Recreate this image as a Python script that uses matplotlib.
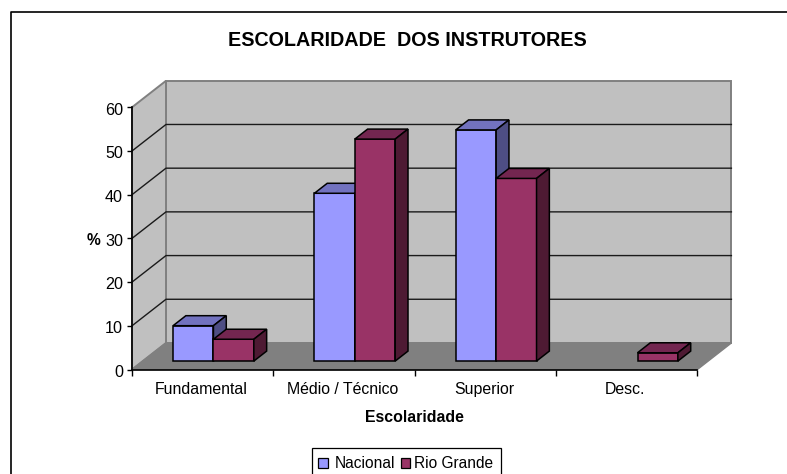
import matplotlib
matplotlib.use("Agg")
import matplotlib.pyplot as plt
from matplotlib.patches import Polygon, Rectangle
from matplotlib.lines import Line2D
from matplotlib.transforms import ScaledTranslation

plt.rcParams['font.family'] = ['Liberation Sans', 'DejaVu Sans']

categories = ['Fundamental', 'Médio / Técnico', 'Superior', 'Desc.']
nacional = [8.1, 38.4, 52.9, 0]
rio_grande = [5.0, 50.8, 41.8, 1.9]
y_ticks = [0, 10, 20, 30, 40, 50, 60]
series_names = ['Nacional', 'Rio Grande']
title = 'ESCOLARIDADE  DOS INSTRUTORES'
x_label = 'Escolaridade'
y_label = '%'

W, H = 787, 474
fig = plt.figure(figsize=(W / 100, H / 100), dpi=100, facecolor='white')


def px_box(x0, y0, x1, y1):
    return [x0 / W, 1 - y1 / H, (x1 - x0) / W, (y1 - y0) / H]


ax = fig.add_axes(px_box(132.0, 107.3, 697.4, 369.5))
ax.set_xlim(0, len(categories))
ax.set_ylim(0, y_ticks[-1])
ax.patch.set_visible(False)
for s in ('top', 'right'):
    ax.spines[s].set_visible(False)
for s in ('left', 'bottom'):
    ax.spines[s].set_linewidth(1.2)
    ax.spines[s].set_color('black')
    ax.spines[s].set_zorder(9)

DX, DY = 0.2405, 6.07  # oblique shift of the full depth, in data units
Z0, Z1 = 0.317, 0.694  # depth span of the bars
BW = 1 / 3.5


def proj(x, y, z):
    return (x + z * DX, y + z * DY)


def poly(points, face, edge='none', lw=0.0, z=1):
    ax.add_patch(Polygon([proj(*p) for p in points], closed=True, facecolor=face,
                         edgecolor=edge, linewidth=lw, clip_on=False, zorder=z,
                         joinstyle='miter'))


nx, ny = len(categories), y_ticks[-1]
wall_edge = '#808080'
# walls and floor
poly([(0, 0, 1), (nx, 0, 1), (nx, ny, 1), (0, ny, 1)], '#C0C0C0', wall_edge, 1.4, 1)
poly([(0, 0, 0), (0, 0, 1), (0, ny, 1), (0, ny, 0)], '#C0C0C0', wall_edge, 1.4, 1)
poly([(0, 0, 0), (nx, 0, 0), (nx, 0, 1), (0, 0, 1)], '#808080', wall_edge, 1.0, 1)

# gridlines on side wall and back wall
for v in y_ticks[1:-1]:
    pts = [proj(0, v, 0), proj(0, v, 1), proj(nx, v, 1)]
    ax.add_line(Line2D([p[0] for p in pts], [p[1] for p in pts], color='#1a1a1a',
                       lw=1.0, zorder=2, clip_on=False))

shade = {'#9999FF': ('#7272BF', '#4E4E84'), '#993366': ('#732650', '#4E1A33')}


def bar3d(x0, x1, v, face, z):
    top, side = shade[face]
    e, lw = 'black', 1.1
    poly([(x0, 0, Z0), (x1, 0, Z0), (x1, v, Z0), (x0, v, Z0)], face, e, lw, z)
    poly([(x0, v, Z0), (x1, v, Z0), (x1, v, Z1), (x0, v, Z1)], top, e, lw, z)
    poly([(x1, 0, Z0), (x1, 0, Z1), (x1, v, Z1), (x1, v, Z0)], side, e, lw, z)


for i in range(nx):
    left = i + 0.75 * BW
    if nacional[i] > 0:
        bar3d(left, left + BW, nacional[i], '#9999FF', 3 + 2 * i)
    if rio_grande[i] > 0:
        bar3d(left + BW, left + 2 * BW, rio_grande[i], '#993366', 4 + 2 * i)

# ticks and labels
ax.set_yticks(y_ticks)
ax.set_yticklabels([str(v) for v in y_ticks])
ax.set_xticks(range(nx + 1))
ax.set_xticklabels([])
ax.set_xticks([i + 0.5 - 0.01 for i in range(nx)], minor=True)
ax.set_xticklabels(categories, minor=True)
ax.tick_params(axis='x', which='minor', length=0, labelsize=11.4, pad=9)
ax.tick_params(axis='x', which='major', length=4.5, width=1.0)
ax.tick_params(axis='y', length=3.5, width=1.0, labelsize=11.6, pad=3)
down = ScaledTranslation(0, -1.3 / 100, fig.dpi_scale_trans)
for lab in ax.get_yticklabels():
    lab.set_transform(lab.get_transform() + down)
ax.set_xlabel(x_label, fontsize=11.4, fontweight='bold', labelpad=9)
ax.set_ylabel(y_label, fontsize=11.2, fontweight='bold', rotation=0, labelpad=8, va='center', y=0.492)

fig.text(407.5 / W, 1 - 41 / H, title, fontsize=14.2, fontweight='bold', ha='center', va='center')

# outer chart frame (left and top edges only; the picture is cropped elsewhere)
fig.add_artist(Line2D([11 / W, 11 / W, 1], [0, 1 - 12 / H, 1 - 12 / H],
                      color='black', lw=1.2))

# legend box, running off the bottom of the picture
fig.add_artist(Rectangle((311.7 / W, -0.01), 189 / W, 1.01 - 448 / H, transform=fig.transFigure,
                         facecolor='white', edgecolor='black', linewidth=0.9))
lx = [(318, 335), (400.5, 414.5)]
for (sx, tx), name, col in zip(lx, series_names, ['#9999FF', '#993366']):
    fig.add_artist(Rectangle((sx / W, 1 - 467.5 / H), 9.5 / W, 9.5 / H, transform=fig.transFigure,
                             facecolor=col, edgecolor='black', linewidth=0.9))
    fig.text(tx / W, 1 - 464 / H, name, fontsize=11.2, ha='left', va='center')

fig.savefig('out.png', dpi=100)
